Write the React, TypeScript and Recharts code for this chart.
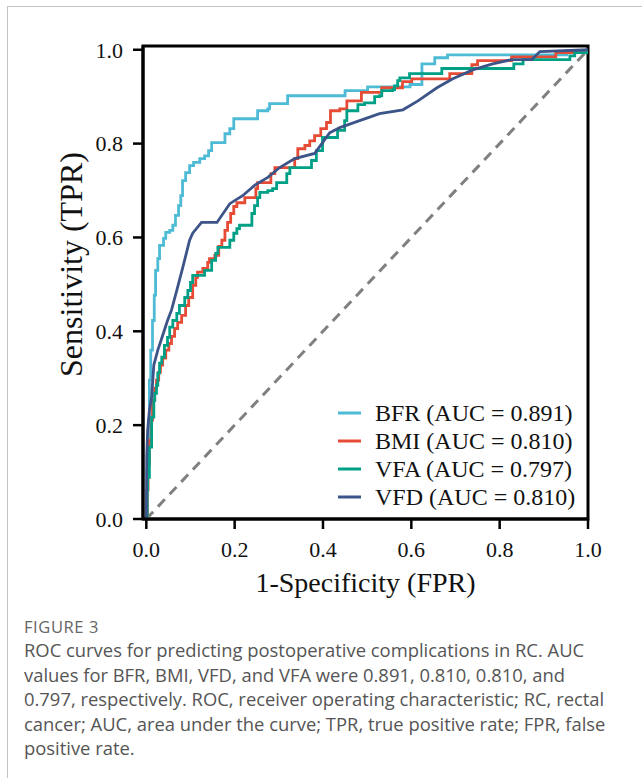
import React from 'react';
import { LineChart, Line, XAxis, YAxis, ReferenceLine, ReferenceArea, Legend, Label } from 'recharts';

// ---- data (FPR / TPR pairs) ----
const bfrFpr = [0,0.002,0.005,0.007,0.01,0.014,0.018,0.021,0.026,0.03,0.039,0.044,0.053,0.06,0.066,0.073,0.078,0.082,0.089,0.098,0.107,0.121,0.132,0.141,0.148,0.171,0.178,0.189,0.198,0.25,0.252,0.275,0.279,0.318,0.32,0.445,0.45,0.499,0.501,0.574,0.597,0.619,0.624,0.648,0.653,0.68,0.682,0.947,0.952,1];
const bfrTpr = [0,0.104,0.211,0.296,0.36,0.423,0.477,0.53,0.555,0.583,0.598,0.611,0.615,0.626,0.647,0.668,0.689,0.721,0.738,0.753,0.76,0.768,0.774,0.785,0.802,0.802,0.821,0.832,0.853,0.853,0.87,0.874,0.885,0.885,0.902,0.902,0.913,0.913,0.921,0.921,0.926,0.926,0.97,0.97,0.983,0.983,0.989,0.989,0.998,1];

const bmiFpr = [0,0.002,0.004,0.007,0.011,0.014,0.019,0.023,0.028,0.032,0.037,0.044,0.051,0.057,0.064,0.071,0.08,0.089,0.096,0.105,0.112,0.116,0.128,0.139,0.143,0.155,0.164,0.171,0.178,0.184,0.191,0.198,0.205,0.218,0.223,0.245,0.248,0.252,0.275,0.282,0.291,0.332,0.336,0.343,0.359,0.37,0.381,0.395,0.408,0.417,0.438,0.454,0.483,0.487,0.528,0.533,0.574,0.58,0.596,0.601,0.68,0.687,0.732,0.737,0.748,0.75,0.823,0.827,0.925,0.927,1];
const bmiTpr = [0,0.062,0.115,0.168,0.211,0.253,0.279,0.296,0.313,0.328,0.343,0.36,0.374,0.389,0.406,0.419,0.434,0.455,0.472,0.498,0.515,0.526,0.534,0.547,0.555,0.562,0.581,0.594,0.615,0.632,0.651,0.666,0.674,0.674,0.685,0.685,0.704,0.717,0.717,0.736,0.749,0.749,0.768,0.789,0.796,0.806,0.817,0.832,0.845,0.87,0.874,0.891,0.891,0.909,0.909,0.919,0.919,0.932,0.932,0.938,0.938,0.949,0.949,0.968,0.968,0.977,0.977,0.985,0.985,0.994,1];

const vfaFpr = [0,0.002,0.003,0.007,0.012,0.017,0.019,0.023,0.026,0.03,0.035,0.041,0.048,0.053,0.06,0.069,0.075,0.087,0.094,0.1,0.105,0.128,0.132,0.143,0.148,0.157,0.162,0.182,0.189,0.198,0.205,0.211,0.229,0.239,0.245,0.252,0.257,0.275,0.286,0.295,0.309,0.318,0.325,0.365,0.374,0.385,0.397,0.399,0.431,0.433,0.449,0.454,0.476,0.479,0.494,0.513,0.517,0.528,0.533,0.558,0.562,0.569,0.574,0.592,0.596,0.664,0.669,0.83,0.832,0.85,0.853,0.947,0.959,0.97,1];
const vfaTpr = [0,0.062,0.089,0.153,0.217,0.253,0.268,0.285,0.311,0.332,0.345,0.37,0.387,0.409,0.423,0.438,0.455,0.472,0.487,0.504,0.519,0.519,0.53,0.53,0.551,0.566,0.579,0.579,0.594,0.609,0.619,0.626,0.626,0.651,0.668,0.685,0.696,0.7,0.704,0.717,0.717,0.736,0.749,0.749,0.764,0.785,0.785,0.813,0.813,0.828,0.849,0.87,0.87,0.883,0.887,0.887,0.9,0.902,0.913,0.915,0.923,0.934,0.94,0.94,0.949,0.949,0.96,0.96,0.97,0.97,0.979,0.979,0.987,0.994,1];

const vfdFpr = [0,0.001,0.003,0.007,0.012,0.017,0.026,0.037,0.048,0.057,0.069,0.082,0.098,0.105,0.125,0.16,0.189,0.218,0.245,0.275,0.302,0.336,0.381,0.415,0.438,0.483,0.528,0.581,0.615,0.658,0.694,0.739,0.784,0.827,0.873,0.891,1];
const vfdTpr = [0,0.132,0.189,0.232,0.26,0.328,0.36,0.391,0.423,0.445,0.487,0.534,0.594,0.609,0.632,0.632,0.672,0.689,0.711,0.728,0.749,0.768,0.779,0.823,0.834,0.849,0.864,0.872,0.891,0.919,0.938,0.957,0.97,0.979,0.979,0.996,1];

const seriesNames = ['BFR (AUC = 0.891)', 'BMI (AUC = 0.810)', 'VFA (AUC = 0.797)', 'VFD (AUC = 0.810)'];
const seriesColors = ['#4DBBD5', '#E64B35', '#00A087', '#3C5488'];
const axisTicks = [0, 0.2, 0.4, 0.6, 0.8, 1.0];

const toRows = (f: number[], t: number[]) => f.map((v, i) => ({ fpr: v, tpr: t[i] }));
const bfrData = toRows(bfrFpr, bfrTpr);
const bmiData = toRows(bmiFpr, bmiTpr);
const vfaData = toRows(vfaFpr, vfaTpr);
const vfdData = toRows(vfdFpr, vfdTpr);

const SERIF = '"Liberation Serif", "Times New Roman", serif';
const SANS = '"Open Sans", "Noto Sans", sans-serif';

const renderLegend = (props: any) => {
  const payload = props.payload || [];
  return (
    <div style={{ fontFamily: SERIF, fontSize: 24, color: '#111' }}>
      {payload.map((e: any, i: number) => (
        <div key={i} style={{ display: 'flex', alignItems: 'center', height: 28, lineHeight: '28px' }}>
          <svg width={23} height={6} style={{ display: 'block' }}>
            <line x1={0} y1={3} x2={23} y2={3} stroke={e.color} strokeWidth={3} />
          </svg>
          <span style={{ marginLeft: 14, whiteSpace: 'nowrap' }}>{e.value}</span>
        </div>
      ))}
    </div>
  );
};

const renderYLabel = (props: any) => {
  const vb = props.viewBox || { x: 0, y: 0, width: 0, height: 0 };
  const cx = vb.x + vb.width / 2 - 1;
  const cy = vb.y + vb.height / 2 - 18;
  return (
    <text
      x={cx}
      y={cy}
      transform={`rotate(-90 ${cx} ${cy})`}
      textAnchor="middle"
      dominantBaseline="central"
      style={{ fontFamily: SERIF, fontSize: 32, fill: '#111' }}
    >
      Sensitivity (TPR)
    </text>
  );
};

const captionLines = [
  'ROC curves for predicting postoperative complications in RC. AUC',
  'values for BFR, BMI, VFD, and VFA were 0.891, 0.810, 0.810, and',
  '0.797, respectively. ROC, receiver operating characteristic; RC, rectal',
  'cancer; AUC, area under the curve; TPR, true positive rate; FPR, false',
  'positive rate.',
];

export default function App() {
  const tickStyle = { fontFamily: SERIF, fontSize: 22, fill: '#111' };
  return (
    <div style={{ position: 'absolute', left: 0, top: 0, width: 642, height: 778, background: '#fff', overflow: 'hidden' }}>
      <div style={{ position: 'absolute', left: 7, top: 6, width: 700, height: 800, borderTop: '1px solid #c4c4c4', borderLeft: '1px solid #c4c4c4' }} />
      <div style={{ position: 'absolute', left: 0, top: 0 }}>
        <LineChart width={642} height={610} margin={{ top: 46, right: 54, left: 0, bottom: 0 }}>
          <XAxis
            type="number"
            dataKey="fpr"
            domain={[-0.0075, 1]}
            allowDataOverflow
            ticks={axisTicks}
            tickFormatter={(v: number) => v.toFixed(1)}
            height={91}
            tickSize={10}
            tickMargin={12}
            axisLine={{ stroke: '#000', strokeWidth: 3 }}
            tickLine={{ stroke: '#000', strokeWidth: 2.5 }}
            tick={tickStyle}
          >
            <Label value="1-Specificity (FPR)" position="insideBottom" offset={18} style={{ fontFamily: SERIF, fontSize: 28, fill: '#111' }} />
          </XAxis>
          <YAxis
            type="number"
            dataKey="tpr"
            domain={[0, 1.008]}
            allowDataOverflow
            ticks={axisTicks}
            tickFormatter={(v: number) => v.toFixed(1)}
            width={143}
            tickSize={10}
            tickMargin={10}
            axisLine={{ stroke: '#000', strokeWidth: 3 }}
            tickLine={{ stroke: '#000', strokeWidth: 2.5 }}
            tick={tickStyle}
          >
            <Label content={renderYLabel} position="center" />
          </YAxis>
          <ReferenceArea x1={-0.0075} x2={1} y1={0} y2={1.008} fill="none" stroke="#000" strokeWidth={3} ifOverflow="visible" />
          <ReferenceLine segment={[{ x: 0, y: 0 }, { x: 1, y: 1 }]} stroke="#808080" strokeWidth={3} strokeDasharray="10 7" />
          <Line data={bfrData} dataKey="tpr" name={seriesNames[0]} type="stepAfter" stroke={seriesColors[0]} strokeWidth={2.8} dot={false} isAnimationActive={false} />
          <Line data={bmiData} dataKey="tpr" name={seriesNames[1]} type="stepAfter" stroke={seriesColors[1]} strokeWidth={2.8} dot={false} isAnimationActive={false} />
          <Line data={vfaData} dataKey="tpr" name={seriesNames[2]} type="stepAfter" stroke={seriesColors[2]} strokeWidth={2.8} dot={false} isAnimationActive={false} />
          <Line data={vfdData} dataKey="tpr" name={seriesNames[3]} type="linear" stroke={seriesColors[3]} strokeWidth={2.8} dot={false} isAnimationActive={false} />
          <Legend
            layout="vertical"
            align="center"
            verticalAlign="middle"
            content={renderLegend}
            wrapperStyle={{ position: 'absolute', left: 338, top: 399, width: 250, height: 112 }}
          />
        </LineChart>
      </div>
      <div style={{ position: 'absolute', left: 24, top: 618, fontFamily: SANS, fontSize: 16.5, lineHeight: '18px', color: '#666', letterSpacing: 0.6 }}>FIGURE 3</div>
      <div style={{ position: 'absolute', left: 24, top: 638, fontFamily: SANS, fontSize: 18.4, lineHeight: '24.5px', color: '#555' }}>
        {captionLines.map((l, i) => (
          <div key={i} style={{ whiteSpace: 'nowrap' }}>{l}</div>
        ))}
      </div>
    </div>
  );
}
